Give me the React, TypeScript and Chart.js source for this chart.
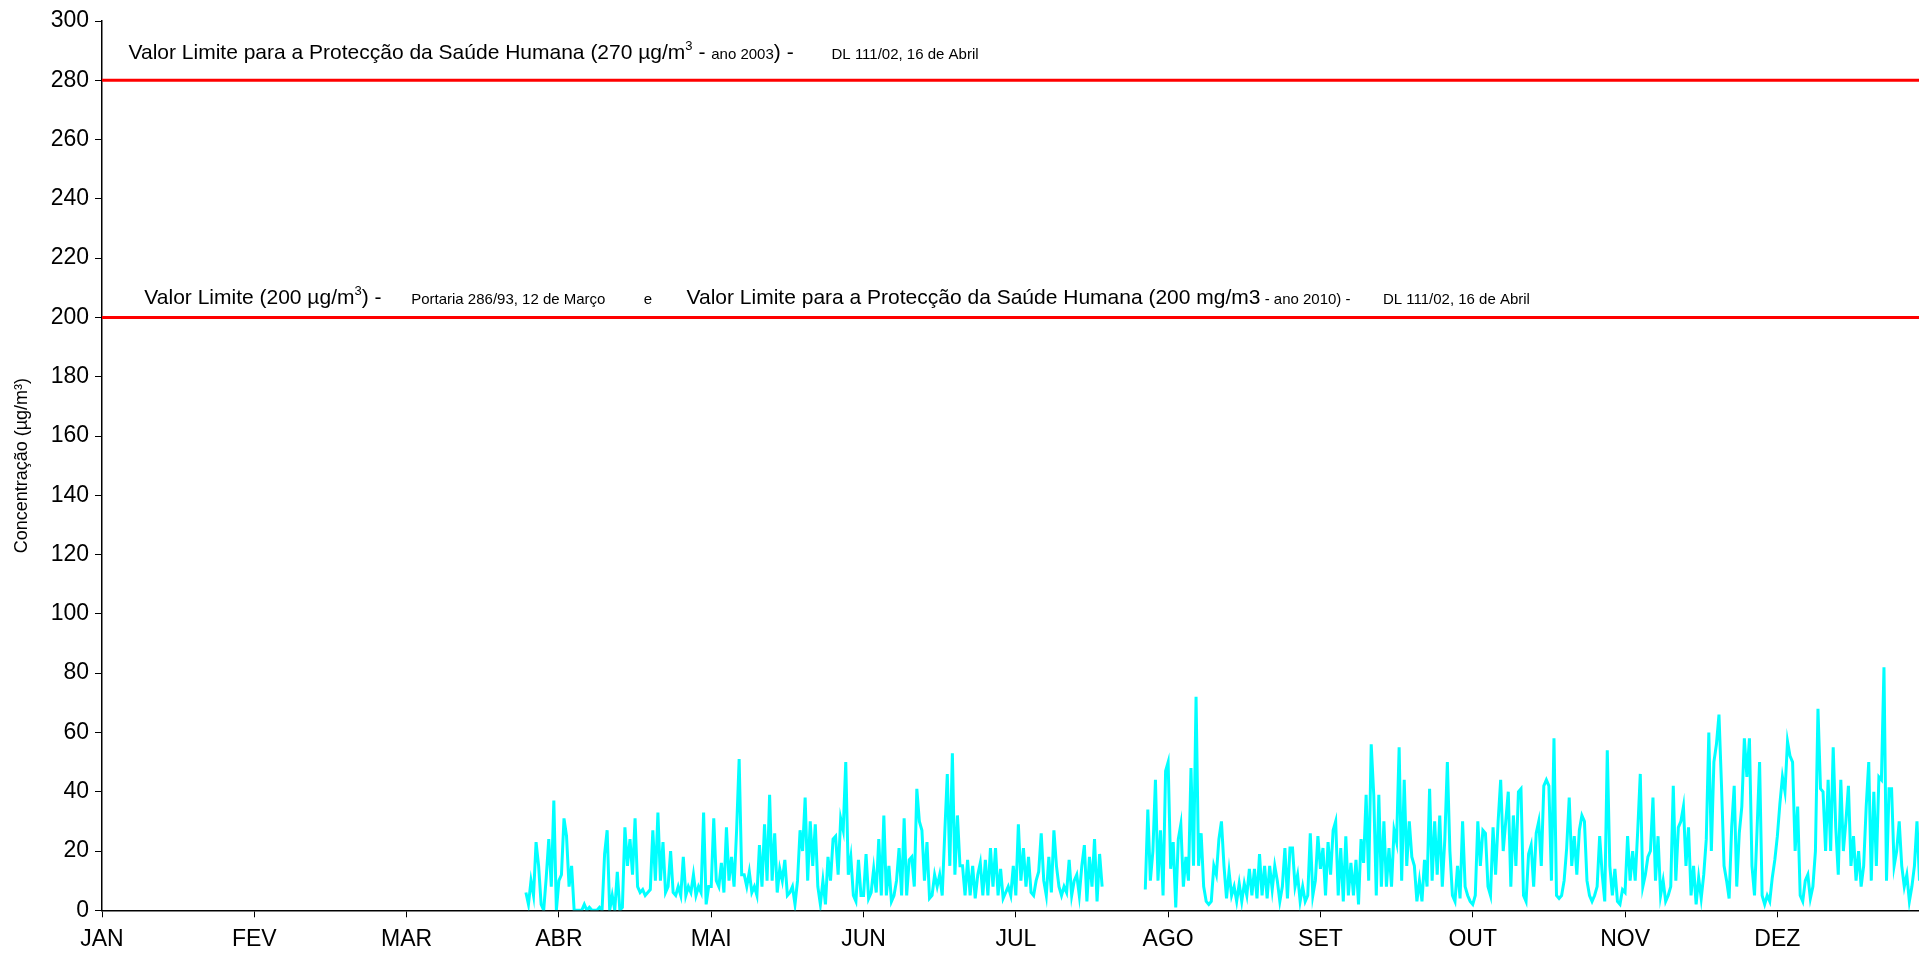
import { useEffect, useRef } from 'react';
import { Chart, registerables } from 'chart.js';

Chart.register(...registerables);

const MONTHS = ['JAN', 'FEV', 'MAR', 'ABR', 'MAI', 'JUN', 'JUL', 'AGO', 'SET', 'OUT', 'NOV', 'DEZ'];
const Y_MIN = 0;
const Y_MAX = 300;
const Y_STEP = 20;
const X_VISIBLE_MAX = 11.93;
const STEPS_PER_MONTH = 60;
const LIMIT_2003 = 280;
const LIMIT_2010 = 200;
const Y_TITLE = 'Concentração (µg/m³)';

// half-day values, 60 per month (null = no data)
const marStart = 47;
const marValues = [6, 2, 10, 5, 23, 15, 2, 0, 11, 24, 8, 37, 0];
const abrValues = [
  10, 12, 31, 25, 8, 15, 0, 0, 0, 0,
  2, 0, 1, 0, 0, 0, 1, 0, 19, 27,
  0, 5, 0, 13, 0, 1, 28, 15, 24, 12,
  31, 8, 6, 7, 5, 6, 7, 27, 10, 33,
  10, 23, 6, 8, 20, 6, 5, 8, 5, 18,
  5, 8, 6, 12, 5, 8, 6, 33, 2, 8,
];
const maiValues = [
  8, 31, 10, 8, 16, 6, 28, 10, 18, 8,
  27, 51, 12, 12, 8, 13, 6, 8, 5, 22,
  8, 29, 10, 39, 10, 26, 6, 14, 10, 17,
  5, 6, 8, 2, 10, 27, 20, 38, 10, 30,
  15, 29, 8, 2, 10, 2, 18, 10, 24, 25,
  12, 31, 27, 50, 12, 18, 5, 3, 17, 5,
];
const junValues = [
  5, 19, 4, 6, 14, 6, 24, 5, 32, 5,
  15, 3, 5, 10, 21, 5, 31, 5, 17, 18,
  8, 41, 30, 27, 10, 23, 4, 5, 12, 8,
  12, 5, 26, 46, 15, 53, 12, 32, 15, 15,
  5, 17, 5, 15, 4, 12, 16, 5, 17, 5,
  21, 8, 21, 5, 14, 4, 6, 8, 5, 15,
];
const julValues = [
  5, 29, 10, 21, 8, 18, 6, 5, 10, 13,
  26, 10, 5, 18, 6, 27, 15, 8, 5, 8,
  6, 17, 5, 10, 12, 5, 15, 22, 3, 18,
  8, 24, 3, 19, 8, null, null, null, null, null,
  null, null, null, null, null, null, null, null, null, null,
  null, 7, 34, 10, 20, 44, 10, 27, 5, 47,
];
const agoValues = [
  50, 14, 23, 1, 24, 29, 8, 18, 10, 48,
  15, 72, 15, 26, 8, 3, 2, 3, 15, 12,
  24, 30, 15, 4, 13, 5, 8, 3, 9, 3,
  9, 5, 14, 5, 14, 4, 19, 5, 15, 4,
  15, 7, 15, 10, 3, 8, 21, 4, 21, 21,
  8, 12, 3, 8, 3, 5, 26, 5, 10, 25,
];
const setValues = [
  14, 21, 5, 23, 12, 27, 30, 5, 21, 3,
  25, 5, 16, 5, 17, 2, 24, 16, 39, 10,
  56, 39, 5, 39, 8, 30, 8, 21, 8, 27,
  23, 55, 10, 44, 15, 30, 18, 15, 3, 10,
  3, 17, 8, 41, 10, 30, 12, 32, 8, 24,
  50, 20, 5, 3, 15, 4, 30, 8, 5, 3,
];
const outValues = [
  2, 5, 30, 15, 27, 26, 8, 5, 28, 12,
  30, 44, 20, 30, 40, 8, 32, 15, 40, 41,
  5, 3, 19, 22, 8, 26, 30, 15, 42, 44,
  42, 10, 58, 5, 4, 5, 10, 21, 38, 15,
  25, 12, 27, 32, 30, 10, 5, 3, 5, 8,
  25, 12, 3, 54, 15, 5, 14, 3, 2, 7,
];
const novValues = [
  6, 25, 10, 20, 10, 27, 46, 8, 12, 18,
  20, 38, 10, 25, 5, 10, 3, 5, 8, 42,
  10, 28, 30, 35, 15, 28, 5, 15, 2, 11,
  4, 12, 24, 60, 20, 50, 56, 66, 42, 15,
  10, 4, 28, 42, 8, 26, 35, 58, 45, 58,
  15, 5, 27, 50, 5, 2, 5, 3, 11, 17,
];
const dezValues = [
  25, 36, 45, 40, 57, 52, 50, 20, 35, 5,
  3, 10, 12, 4, 8, 20, 68, 41, 40, 20,
  44, 20, 55, 28, 12, 44, 20, 30, 42, 15,
  25, 10, 20, 8, 15, 35, 50, 10, 40, 15,
  45, 44, 82, 10, 41, 41, 15, 20, 30, 15,
  8, 12, 3, 8, 15, 30, 10, 5, 31,
];

const SEGMENTS = [
  { month: 2, start: marStart, values: marValues },
  { month: 3, start: 0, values: abrValues },
  { month: 4, start: 0, values: maiValues },
  { month: 5, start: 0, values: junValues },
  { month: 6, start: 0, values: julValues },
  { month: 7, start: 0, values: agoValues },
  { month: 8, start: 0, values: setValues },
  { month: 9, start: 0, values: outValues },
  { month: 10, start: 0, values: novValues },
  { month: 11, start: 0, values: dezValues },
];

const FONT = "'Liberation Sans', Arial, sans-serif";
const BIG = 21;
const SMALL = 15;
const SUP = 13;

// "at" = optional anchor on the x axis (month units) where a run starts
type Run = { text: string; size: number; sup?: boolean; at?: number };

const LABEL_2003: Run[] = [
  { text: 'Valor Limite para a Protecção da Saúde Humana (270 µg/m', size: BIG },
  { text: '3', size: SUP, sup: true },
  { text: ' - ', size: BIG },
  { text: 'ano 2003', size: SMALL },
  { text: ') -', size: BIG },
  { text: 'DL 111/02, 16 de Abril', size: SMALL, at: 4.79 },
];
const LABEL_1993: Run[] = [
  { text: 'Valor Limite (200 µg/m', size: BIG },
  { text: '3', size: SUP, sup: true },
  { text: ') -', size: BIG },
  { text: 'Portaria 286/93, 12 de Março', size: SMALL, at: 2.03 },
];
const LABEL_AND: Run[] = [{ text: 'e', size: SMALL }];
const LABEL_2010: Run[] = [
  { text: 'Valor Limite para a Protecção da Saúde Humana ', size: BIG },
  { text: '(200 mg/m3', size: BIG },
  { text: ' - ano 2010) -', size: SMALL },
  { text: 'DL 111/02, 16 de Abril', size: SMALL, at: 8.41 },
];

const drawRuns = (ctx: CanvasRenderingContext2D, xScale: any, runs: Run[], x0: number, baseY: number) => {
  let cx = x0;
  for (const r of runs) {
    if (r.at !== undefined) cx = xScale.getPixelForValue(r.at);
    ctx.font = `${r.size}px ${FONT}`;
    ctx.fillText(r.text, cx, r.sup ? baseY - BIG * 0.42 : baseY);
    cx += ctx.measureText(r.text).width;
  }
};

const labelsPlugin = {
  id: 'limitLabels',
  afterDatasetsDraw(chart: any) {
    const { ctx, scales } = chart;
    const x = scales.x;
    const y = scales.y;
    ctx.save();
    ctx.fillStyle = '#000';
    ctx.textBaseline = 'alphabetic';
    ctx.textAlign = 'left';
    drawRuns(ctx, x, LABEL_2003, x.getPixelForValue(0.174), y.getPixelForValue(287.3));
    drawRuns(ctx, x, LABEL_1993, x.getPixelForValue(0.278), y.getPixelForValue(204.5));
    drawRuns(ctx, x, LABEL_AND, x.getPixelForValue(3.557), y.getPixelForValue(204.5));
    drawRuns(ctx, x, LABEL_2010, x.getPixelForValue(3.838), y.getPixelForValue(204.5));
    ctx.restore();
  },
};

export default function App() {
  const canvasRef = useRef<HTMLCanvasElement | null>(null);

  useEffect(() => {
    const canvas = canvasRef.current;
    if (!canvas) return;

    const seriesPoints: { x: number; y: number | null }[] = [];
    for (const seg of SEGMENTS) {
      seg.values.forEach((v, j) => {
        seriesPoints.push({ x: seg.month + (seg.start + j) / STEPS_PER_MONTH, y: v });
      });
    }

    const chart = new Chart(canvas, {
      type: 'line',
      data: {
        datasets: [
          {
            data: seriesPoints as any,
            borderColor: '#00FFFF',
            borderWidth: 3,
            pointRadius: 0,
            spanGaps: false,
            tension: 0,
          },
          {
            data: [{ x: 0, y: LIMIT_2003 }, { x: 12, y: LIMIT_2003 }],
            borderColor: '#FF0000',
            borderWidth: 3,
            pointRadius: 0,
          },
          {
            data: [{ x: 0, y: LIMIT_2010 }, { x: 12, y: LIMIT_2010 }],
            borderColor: '#FF0000',
            borderWidth: 3,
            pointRadius: 0,
          },
        ],
      },
      options: {
        animation: false,
        responsive: true,
        maintainAspectRatio: false,
        layout: { padding: { top: 21, right: 0, bottom: 0, left: 0 } },
        plugins: { legend: { display: false }, tooltip: { enabled: false } },
        scales: {
          x: {
            type: 'linear',
            min: 0,
            max: X_VISIBLE_MAX,
            afterBuildTicks: (s: any) => {
              s.ticks = MONTHS.map((_, i) => ({ value: i }));
            },
            afterFit: (s: any) => {
              s.height = 42.7;
            },
            ticks: {
              autoSkip: false,
              maxRotation: 0,
              minRotation: 0,
              padding: 9,
              color: '#000',
              font: { family: FONT, size: 23 },
              callback: (v: any) => MONTHS[Math.round(Number(v))] ?? '',
            },
            grid: { drawOnChartArea: false, drawTicks: true, tickLength: 7, color: '#000' },
            border: { color: '#000', width: 1.5 },
          },
          y: {
            min: Y_MIN,
            max: Y_MAX,
            afterFit: (s: any) => {
              s.width = 102;
            },
            ticks: {
              stepSize: Y_STEP,
              padding: 6,
              color: '#000',
              font: { family: FONT, size: 23 },
            },
            grid: { drawOnChartArea: false, drawTicks: true, tickLength: 7, color: '#000' },
            border: { color: '#000', width: 1.5 },
            title: {
              display: true,
              text: Y_TITLE,
              color: '#000',
              font: { family: FONT, size: 18 },
              padding: { top: 11, bottom: 0 },
            },
          },
        },
      } as any,
      plugins: [labelsPlugin],
    });

    return () => chart.destroy();
  }, []);

  return (
    <div style={{ position: 'fixed', left: 0, top: 0, width: 1919, height: 953, background: '#fff' }}>
      <canvas ref={canvasRef} />
    </div>
  );
}
